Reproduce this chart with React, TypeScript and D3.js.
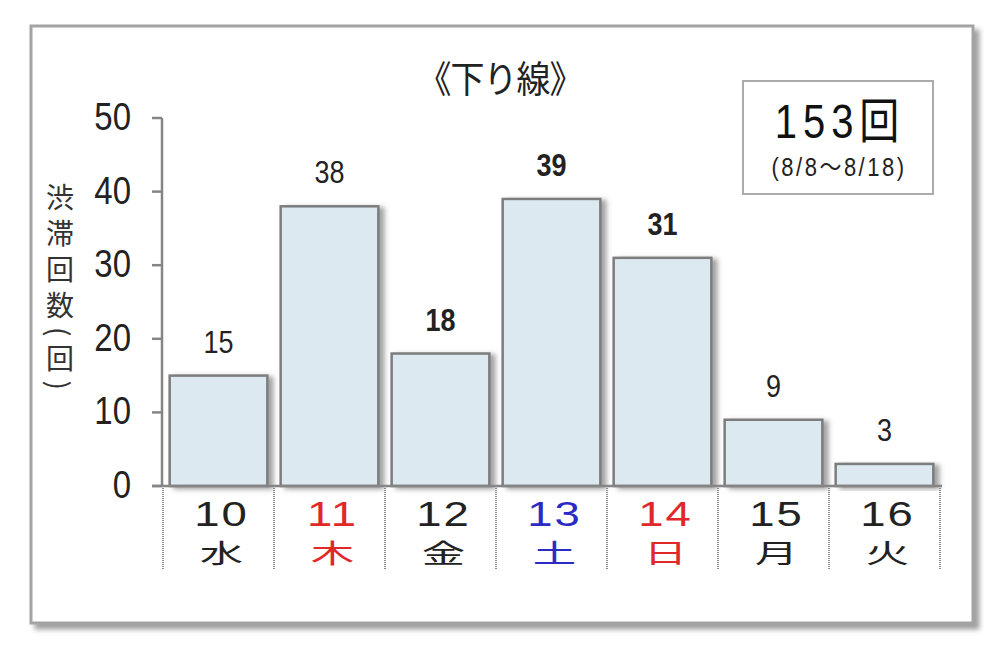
import * as d3 from "d3";
import React from "react";

// ── data ────────────────────────────────────────────────────────────
const days = ["10", "11", "12", "13", "14", "15", "16"];
const weekdays = ["水", "木", "金", "土", "日", "月", "火"];
const counts = [15, 38, 18, 39, 31, 9, 3];
const boldDays = ["12", "13", "14"];
const dayColors = ["#222", "#e0282a", "#222", "#2b2bc4", "#e0282a", "#222", "#222"];
const yTicks = [0, 10, 20, 30, 40, 50];
const title = "《下り線》";
const yLabel = "渋滞回数(回)";
const totalLabel = "153回";
const periodLabel = "(8/8～8/18)";

const W = 1006;
const H = 648;
const FONT = '"Liberation Sans", "Noto Sans CJK JP", sans-serif';
const JP = '"Noto Sans CJK JP", sans-serif';

function SText({
  x,
  y,
  sx = 1,
  sy = 1.18,
  children,
  ...rest
}: { x: number; y: number; sx?: number; sy?: number; children: React.ReactNode } & React.SVGProps<SVGTextElement>) {
  return (
    <text transform={`translate(${x},${y}) scale(${sx},${sy})`} {...rest}>
      {children}
    </text>
  );
}

export default function App() {
  const x = d3
    .scaleBand<string>()
    .domain(days)
    .range([163, 940])
    .paddingInner(0.12)
    .paddingOuter(0.06);
  const y = d3.scaleLinear().domain([0, 50]).range([486, 118]);
  const step = x.step();
  const bw = x.bandwidth();
  const axisCol = "#858585";

  return (
    <div style={{ position: "absolute", left: 0, top: 0 }}>
      <svg width={W} height={H} style={{ display: "block", background: "#fff" }}>
        <defs>
          <filter id="frameShadow" x="-5%" y="-5%" width="115%" height="115%">
            <feDropShadow dx="5" dy="5" stdDeviation="2.5" floodColor="#777" floodOpacity="0.7" />
          </filter>
          <filter id="barShadow" x="-10%" y="-10%" width="130%" height="130%">
            <feDropShadow dx="5" dy="2" stdDeviation="2.5" floodColor="#666" floodOpacity="0.6" />
          </filter>
        </defs>

        {/* outer frame */}
        <rect x={31} y={26} width={942} height={597} fill="#fff" stroke="#a3a3a3" strokeWidth={3} filter="url(#frameShadow)" />

        {/* title */}
        <SText x={500} y={93} sy={1.1} textAnchor="middle" fontFamily={JP} fontSize={34} letterSpacing={-1} fill="#222">
          {title}
        </SText>

        {/* total box */}
        <rect x={743} y={81} width={190} height={113} fill="#fff" stroke="#ababab" strokeWidth={2} />
        <SText x={840} y={138} sy={1.2} textAnchor="middle" fontFamily={FONT} fontSize={40} letterSpacing={6} fill="#111">
          {totalLabel}
        </SText>
        <SText x={839} y={176} sy={1.15} textAnchor="middle" fontFamily={FONT} fontSize={22} letterSpacing={2.5} fill="#222">
          {periodLabel}
        </SText>

        {/* y label */}
        <text
          x={60}
          y={183}
          fontFamily={JP}
          fontSize={28}
          fill="#333"
          letterSpacing={8}
          style={{ writingMode: "vertical-rl" }}
        >
          {yLabel}
        </text>

        {/* y axis */}
        <line x1={162} x2={162} y1={y(50)} y2={y(0)} stroke={axisCol} strokeWidth={2.5} />
        {yTicks.map((t) => (
          <g key={t}>
            <line x1={152} x2={162} y1={y(t)} y2={y(t)} stroke={axisCol} strokeWidth={2.5} />
            <SText x={131} y={y(t) + 12} sy={1.18} textAnchor="end" fontFamily={FONT} fontSize={33} fill="#222">
              {t}
            </SText>
          </g>
        ))}

        {/* bars */}
        {days.map((d, i) => (
          <rect
            key={d}
            x={x(d)!}
            y={y(counts[i])}
            width={bw}
            height={y(0) - y(counts[i])}
            fill="#dce9f1"
            stroke="#7d7d7d"
            strokeWidth={2.5}
            filter="url(#barShadow)"
          />
        ))}

        {/* x axis */}
        <line x1={152} x2={942} y1={y(0)} y2={y(0)} stroke={axisCol} strokeWidth={2.5} />

        {/* category separators */}
        {d3.range(days.length + 1).map((i) => {
          const sx = x.range()[0] + i * step;
          return (
            <line
              key={i}
              x1={sx}
              x2={sx}
              y1={y(0)}
              y2={570}
              stroke="#8a8a8a"
              strokeWidth={2}
              strokeDasharray="1 1"
            />
          );
        })}

        {/* value labels */}
        {days.map((d, i) => (
          <SText
            key={d}
            x={x(d)! + bw / 2}
            y={y(counts[i]) - 23}
            sy={1.18}
            textAnchor="middle"
            fontFamily={FONT}
            fontSize={27}
            fontWeight={boldDays.includes(d) ? 700 : 400}
            fill="#222"
          >
            {counts[i]}
          </SText>
        ))}

        {/* category labels */}
        {days.map((d, i) => {
          const cx = x(d)! + bw / 2 + 3;
          return (
            <g key={d} fill={dayColors[i]}>
              <SText
                x={cx}
                y={526}
                sx={1.3}
                sy={1}
                textAnchor="middle"
                fontFamily={FONT}
                fontSize={35}
                letterSpacing={1.5}
              >
                {d}
              </SText>
              <SText x={cx} y={563} sx={1.55} sy={0.95} textAnchor="middle" fontFamily={JP} fontSize={28}>
                {weekdays[i]}
              </SText>
            </g>
          );
        })}
      </svg>
    </div>
  );
}
